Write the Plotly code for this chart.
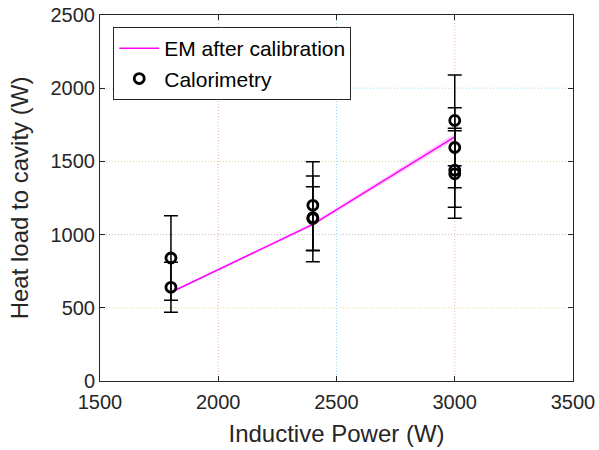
import plotly.graph_objects as go

# EM model (after calibration)
em_power = [1800, 2400, 3000]
em_heat = [606, 1070, 1668]
em_lower = [600, 1058, 1646]
em_upper = [612, 1082, 1690]

# Calorimetry measurements
cal_power = [1800, 1800, 2400, 2400, 2400, 3000, 3000, 3000, 3000]
cal_heat = [840, 640, 1200, 1115, 1110, 1780, 1595, 1440, 1415]
cal_err_plus = [288, 171, 298, 285, 217, 310, 272, 286, 295]
cal_err_minus = [288, 171, 310, 300, 217, 310, 275, 254, 304]

x_ticks = [1500, 2000, 2500, 3000, 3500]
y_ticks = [0, 500, 1000, 1500, 2000, 2500]

# Constant reference lines (MATLAB default colour order, faded)
xline_vals = [2000, 2500, 3000]
xline_colors = ["rgba(200,40,80,0.4)", "rgba(77,190,238,0.55)", "rgba(217,83,25,0.4)"]
yline_vals = [500, 1000, 1500, 2000]
yline_colors = ["rgba(237,177,32,0.5)", "rgba(126,47,142,0.4)", "rgba(160,180,48,0.5)", "rgba(77,190,238,0.55)"]

fig = go.Figure()

for v, c in zip(xline_vals, xline_colors):
    fig.add_shape(type="line", xref="x", yref="paper", x0=v, x1=v, y0=0, y1=1,
                  line=dict(color=c, width=1, dash="1px,2px"), layer="below")
for v, c in zip(yline_vals, yline_colors):
    fig.add_shape(type="line", xref="paper", yref="y", x0=0, x1=1, y0=v, y1=v,
                  line=dict(color=c, width=1, dash="1px,2px"), layer="below")

fig.add_trace(go.Scatter(x=em_power, y=em_lower, mode="lines", line=dict(width=0),
                         showlegend=False, hoverinfo="skip"))
fig.add_trace(go.Scatter(x=em_power, y=em_upper, mode="lines", line=dict(width=0),
                         fill="tonexty", fillcolor="rgba(255,0,255,0.18)",
                         showlegend=False, hoverinfo="skip"))
fig.add_trace(go.Scatter(x=em_power, y=em_heat, mode="lines",
                         line=dict(color="#ff00ff", width=1.5),
                         name="EM after calibration"))
fig.add_trace(go.Scatter(x=cal_power, y=cal_heat, mode="markers",
                         marker=dict(symbol="circle-open", size=10, color="black",
                                     line=dict(width=2.8, color="black")),
                         error_y=dict(type="data", array=cal_err_plus, arrayminus=cal_err_minus,
                                      color="black", thickness=1.5, width=7, visible=True),
                         name="Calorimetry"))

axis_common = dict(showline=True, linecolor="#262626", linewidth=1, mirror="ticks",
                   ticks="inside", ticklen=5, tickcolor="#262626", showgrid=False,
                   zeroline=False, automargin=False, ticklabeloverflow="allow",
                   tickfont=dict(size=20, color="#262626"))

fig.update_layout(
    width=599, height=450,
    margin=dict(l=99.5, r=25.5, t=15, b=69, autoexpand=False),
    paper_bgcolor="white", plot_bgcolor="white",
    font=dict(family="Liberation Sans, Arial, sans-serif", color="#262626"),
    xaxis=dict(range=[1500, 3500], tickvals=x_ticks, ticklabelstandoff=3,
               title=dict(text="Inductive Power (W)", font=dict(size=24), standoff=13),
               **axis_common),
    yaxis=dict(range=[0, 2500], tickvals=y_ticks,
               title=dict(text="Heat load to cavity (W)", font=dict(size=24), standoff=15),
               **axis_common),
    legend=dict(x=0.028, y=0.967, xanchor="left", yanchor="top",
                bgcolor="white", bordercolor="#262626", borderwidth=1,
                font=dict(size=21, color="black"), tracegroupgap=0,
                traceorder="normal", itemwidth=40),
    showlegend=True,
)

# remove the default 8px page margin so the figure sits at the window origin
fig.write_html("out.html", config={"displayModeBar": False},
               post_script="document.body.style.margin='0';")
